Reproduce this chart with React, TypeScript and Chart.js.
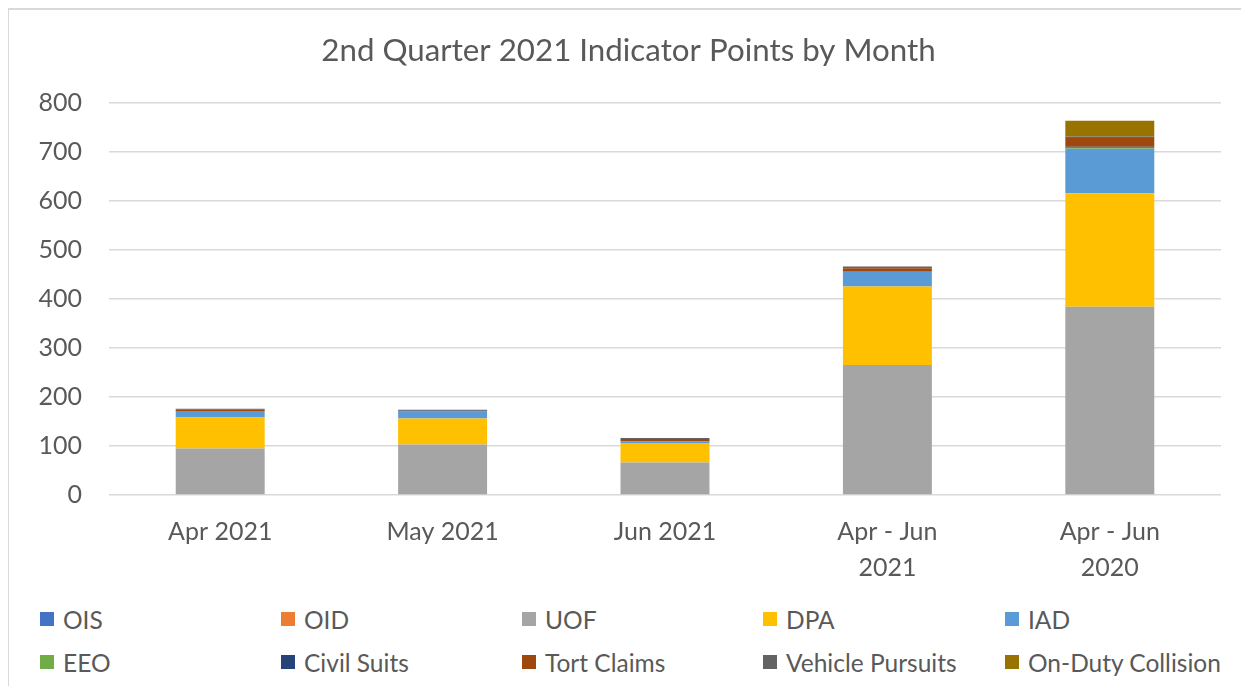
import React, { useEffect, useRef } from "react";
import { Chart, registerables } from "chart.js";

Chart.register(...registerables);

const categories: (string | string[])[] = ["Apr 2021", "May 2021", "Jun 2021", ["Apr - Jun", "2021"], ["Apr - Jun", "2020"]];

const OIS = [0, 0, 0, 0, 0];
const OID = [0, 0, 0, 0, 0];
const UOF = [95, 103, 66, 265, 384];
const DPA = [63, 53, 40, 160, 231];
const IAD = [13, 14, 3, 30, 91];
const EEO = [0, 0, 0, 0, 2];
const CivilSuits = [0, 2, 0, 0, 2];
const TortClaims = [3, 0, 5, 7, 18];
const VehiclePursuits = [2, 2, 2, 4, 3];
const OnDutyCollision = [0, 0, 0, 0, 32];

const yTicks = [0, 100, 200, 300, 400, 500, 600, 700, 800];

const seriesNames = ["OIS", "OID", "UOF", "DPA", "IAD", "EEO", "Civil Suits", "Tort Claims", "Vehicle Pursuits", "On-Duty Collision"];
const seriesData = [OIS, OID, UOF, DPA, IAD, EEO, CivilSuits, TortClaims, VehiclePursuits, OnDutyCollision];
const seriesColors = ["#4472C4", "#ED7D31", "#A5A5A5", "#FFC000", "#5B9BD5", "#70AD47", "#264478", "#9E480E", "#636363", "#997300"];

const FONT = "Lato, 'Noto Sans', sans-serif";
const TEXT = "#595959";

export default function App() {
  const ref = useRef<HTMLCanvasElement | null>(null);

  useEffect(() => {
    document.body.style.overflow = "hidden";
    const canvas = ref.current;
    if (!canvas) return;
    const chart = new Chart(canvas, {
      type: "bar",
      data: {
        labels: categories,
        datasets: seriesNames.map((name, i) => ({
          label: name,
          data: seriesData[i],
          backgroundColor: seriesColors[i],
          borderWidth: 0,
          barPercentage: 0.8,
          categoryPercentage: 0.5,
        })),
      },
      options: {
        animation: false,
        responsive: false,
        maintainAspectRatio: false,
        layout: { padding: { left: 0, right: 0, top: 0, bottom: 0 } },
        plugins: {
          legend: { display: false },
          tooltip: { enabled: false },
          title: {
            display: true,
            text: "2nd Quarter 2021 Indicator Points by Month",
            color: TEXT,
            font: { family: FONT, size: 31.3, weight: "normal", lineHeight: 1.2 },
            padding: { top: 24, bottom: 33 },
          },
        },
        scales: {
          x: {
            stacked: true,
            grid: { display: false, drawTicks: false },
            border: { display: false },
            ticks: {
              color: TEXT,
              font: { family: FONT, size: 25, lineHeight: 1.45 },
              padding: 19,
              maxRotation: 0,
              autoSkip: false,
            },
            afterFit: (scale: any) => {
              scale.height = 103;
            },
          },
          y: {
            stacked: true,
            min: 0,
            max: 800,
            afterBuildTicks: (scale: any) => {
              scale.ticks = yTicks.map((v) => ({ value: v }));
            },
            grid: { color: "#d9d9d9", lineWidth: 1.5, drawTicks: false },
            border: { display: false },
            ticks: {
              color: TEXT,
              font: { family: FONT, size: 25 },
              padding: 27,
            },
            afterFit: (scale: any) => {
              scale.width = 101;
            },
          },
          spacer: {
            type: "linear",
            position: "right",
            display: true,
            min: 0,
            max: 800,
            grid: { display: false, drawTicks: false },
            border: { display: false },
            ticks: { display: false },
            afterFit: (scale: any) => {
              scale.width = 28;
            },
          },
        },
      },
    });
    return () => chart.destroy();
  }, []);

  const colLeft = [32, 273, 514, 755, 997];
  const rowCenter = [611, 654];

  return (
    <div style={{ position: "relative", width: 1241, height: 678, fontFamily: FONT }}>
      <div
        style={{
          position: "absolute",
          left: -1,
          top: 0,
          width: 1250,
          height: 700,
          borderLeft: "2px solid #d9d9d9",
          borderTop: "2px solid #d9d9d9",
          boxSizing: "border-box",
          pointerEvents: "none",
        }}
      />
      <canvas ref={ref} width={1241} height={590} style={{ position: "absolute", left: 0, top: 0, width: 1241, height: 590 }} />
      {seriesNames.map((name, i) => {
        const col = i % 5;
        const row = Math.floor(i / 5);
        return (
          <div
            key={name}
            style={{
              position: "absolute",
              left: colLeft[col],
              top: rowCenter[row] - 16,
              height: 32,
              display: "flex",
              alignItems: "center",
              whiteSpace: "nowrap",
            }}
          >
            <span style={{ display: "inline-block", width: 14, height: 14, background: seriesColors[i], marginRight: 9 }} />
            <span style={{ color: TEXT, fontSize: 24.5 }}>{name}</span>
          </div>
        );
      })}
    </div>
  );
}
